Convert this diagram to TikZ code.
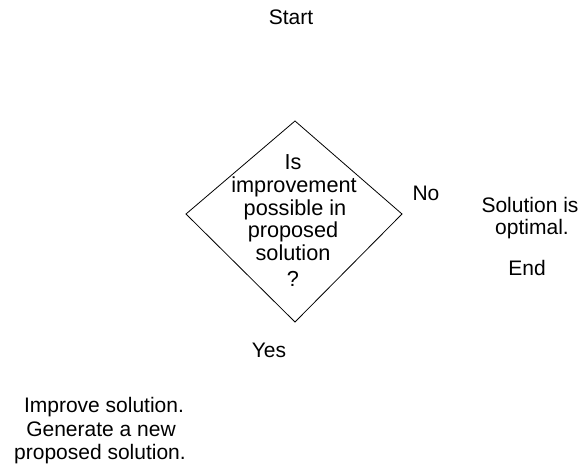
\documentclass[tikz,border=0pt]{standalone}
\usepackage{fontspec}
\setmainfont{Liberation Sans}
\begin{document}
\begin{tikzpicture}[x=1pt,y=-1pt,
  lbl/.style={anchor=base,inner sep=0pt,font=\fontsize{21}{23}\selectfont,align=center},
  qtxt/.style={anchor=base,inner sep=0pt,font=\fontsize{21.7}{23}\selectfont},
  dia/.style={draw=black,line width=0.8pt,line join=miter}]
\useasboundingbox (0,0) rectangle (581,465);
\coordinate (dT) at (295,121);
\coordinate (dR) at (402,214);
\coordinate (dB) at (295,322);
\coordinate (dL) at (186,214);
\draw[dia] (dT) -- (dR) -- (dB) -- (dL) -- cycle;
\node[lbl] (start) at (291,25) {Start};
\node[qtxt] (q1) at (293,170) {Is};
\node[qtxt] (q2) at (294,193) {improvement};
\node[qtxt] (q3) at (295,215) {possible in};
\node[qtxt] (q4) at (293,238) {proposed};
\node[qtxt] (q5) at (293,261) {solution};
\node[qtxt] (q6) at (293,286) {?};
\node[lbl] (no) at (426,201) {No};
\node[lbl] (yes) at (269,357) {Yes};
\node[lbl] (s1) at (530,213) {Solution is};
\node[lbl] (s2) at (532,235) {optimal.};
\node[lbl] (s3) at (527,276) {End};
\node[lbl] (i1) at (104,412) {Improve solution.};
\node[lbl] (i2) at (101,436) {Generate a new};
\node[lbl] (i3) at (100,459) {proposed solution.};
\end{tikzpicture}
\end{document}
